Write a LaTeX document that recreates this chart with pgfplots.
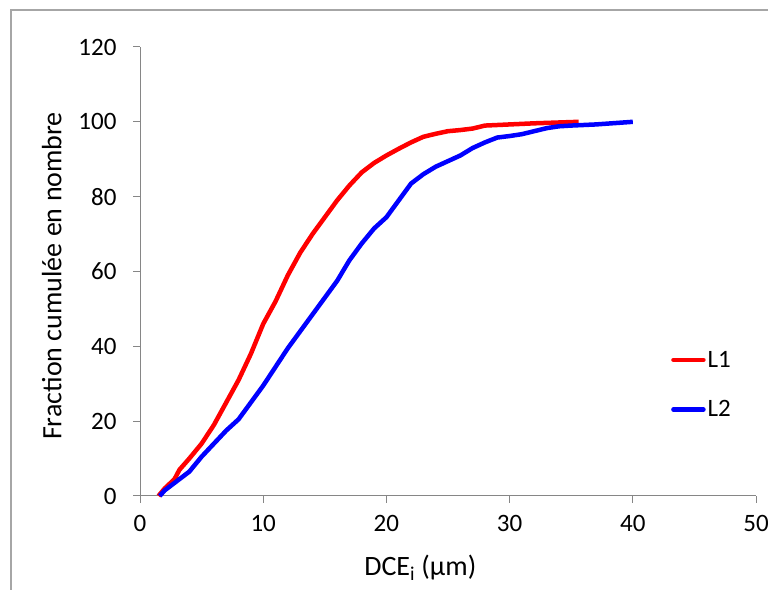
\documentclass[border=0pt]{standalone}
\usepackage{pgfplots}
\pgfplotsset{compat=1.18}
\usepackage{fontspec}
\setmainfont{Carlito}
\definecolor{axgray}{HTML}{868686}
\definecolor{bordergray}{HTML}{A6A6A6}
\begin{document}
\begin{tikzpicture}[x=1bp,y=1bp]
\useasboundingbox (0,0) rectangle (768,590);
\begin{axis}[
  at={(140bp,94bp)}, anchor=origin,
  scale only axis, width=616bp, height=449bp,
  xmin=0, xmax=50, ymin=0, ymax=120,
  xtick={0,10,...,50}, ytick={0,20,...,120},
  axis lines*=left,
  axis line style={axgray, line width=1bp, -},
  tick style={axgray, line width=1bp},
  major tick length=7bp, tick align=outside,
  font=\fontsize{25bp}{29bp}\selectfont,
  /pgf/number format/assume math mode=true,
  xticklabel style={yshift=-9bp},
  yticklabel style={xshift=-13bp},
  xlabel={DCE\textsubscript{i} (µm)},
  ylabel={Fraction cumulée en nombre},
  xlabel style={font=\fontsize{28bp}{32bp}\selectfont, at={(axis description cs:0.455,0)}, anchor=north, yshift=-56bp},
  ylabel style={font=\fontsize{28bp}{32bp}\selectfont, at={(axis description cs:0,0.49)}, anchor=south, yshift=75bp},
  clip=false,
  legend cell align=left,
  legend image code/.code={\draw[line width=4.5bp, line cap=round] (0bp,0bp) -- (30bp,0bp);},
  legend style={draw=none, fill=none, at={(axis cs:43.1,39.3)}, anchor=north west, inner sep=0pt, row sep=28bp, font=\fontsize{25bp}{29bp}\selectfont, nodes={inner xsep=2bp}},
]
\addplot[red, line width=4.5bp, line join=round] coordinates {
(1.5,0) (2,2) (2.8,4.5) (3.2,7) (4,10) (5,14) (6,19) (7,25) (8,31) (9,38) (10,46) (11,52) (12,59) (13,65) (14,70) (15,74.5) (16,79) (17,83) (18,86.5) (19,89) (20,91) (21,92.8) (22,94.5) (23,96) (24,96.8) (25,97.5) (26,97.8) (27,98.2) (28,99) (30,99.3) (32,99.6) (35.6,100)
};
\addlegendentry{L1}
\addplot[blue, line width=4.5bp, line join=round] coordinates {
(1.6,0) (2,1.5) (3,4) (4,6.5) (5,10.5) (6,14) (7,17.5) (8,20.5) (9,25) (10,29.5) (11,34.5) (12,39.5) (13,44) (14,48.5) (15,53) (16,57.5) (17,63) (18,67.5) (19,71.5) (20,74.5) (21,79) (22,83.5) (23,86) (24,88) (25,89.5) (26,91) (27,93) (28,94.5) (29,95.8) (30,96.2) (31,96.7) (32,97.5) (33,98.3) (34,98.8) (35,99) (37,99.3) (40,100)
};
\addlegendentry{L2}
\end{axis}
\draw[bordergray, line width=2bp] (11,0) -- (11,580) -- (768,580);
\end{tikzpicture}
\end{document}
